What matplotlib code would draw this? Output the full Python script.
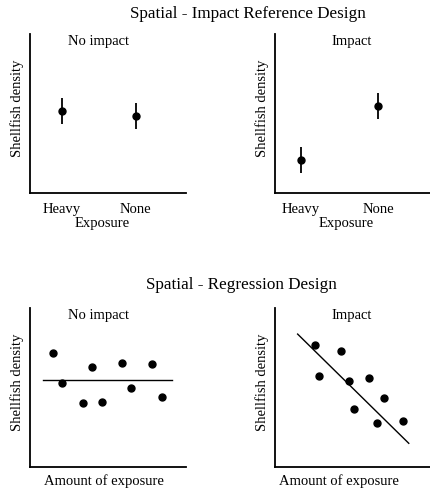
import matplotlib
matplotlib.use("Agg")
import matplotlib.pyplot as plt

plt.rcParams['font.family'] = ['Liberation Serif', 'DejaVu Serif']

# top row: impact reference design (mean +/- error)
groups = ["Heavy", "None"]
ref_no_mean = [5.13, 4.87]
ref_no_err = [0.82, 0.82]
ref_imp_mean = [2.1, 5.5]
ref_imp_err = [0.82, 0.82]

# bottom row: regression design
reg_no_x = [1.46, 2.07, 3.42, 3.99, 4.62, 5.92, 6.47, 7.80, 8.44]
reg_no_y = [7.19, 5.30, 4.01, 6.31, 4.09, 6.56, 4.99, 6.48, 4.40]
reg_no_line_x = [0.81, 9.10]
reg_no_line_y = [5.47, 5.47]

reg_imp_x = [2.58, 2.84, 4.24, 4.79, 5.12, 6.05, 6.60, 7.01, 8.24]
reg_imp_y = [7.65, 5.72, 7.31, 5.41, 3.64, 5.62, 2.79, 4.34, 2.87]
reg_imp_line_x = [1.46, 8.63]
reg_imp_line_y = [8.36, 1.49]

W, H = 430, 495
FS = 10.5
fig = plt.figure(figsize=(W / 100, H / 100), dpi=100)


def make_ax(left, top, width=156, height=159):
    ax = fig.add_axes([left / W, 1 - (top + height) / H, width / W, height / H])
    for s in ["top", "right"]:
        ax.spines[s].set_visible(False)
    for s in ["left", "bottom"]:
        ax.spines[s].set_linewidth(1.3)
    ax.set_yticks([])
    ax.set_ylim(0, 10)
    return ax


def ref_panel(ax, means, errs, title, tx, xlim):
    ax.errorbar([0, 1], means, yerr=errs, fmt='o', color='black',
                markersize=5, elinewidth=1.3, capsize=0)
    ax.set_xlim(*xlim)
    ax.set_xticks([0, 1])
    ax.set_xticklabels(groups, fontsize=FS)
    ax.tick_params(axis='x', length=0, pad=7)
    ax.text(tx, 0.95, title, transform=ax.transAxes, ha='center', va='center', fontsize=FS)
    ax.text(-0.083, 0.535, "Shellfish density", transform=ax.transAxes, rotation=90,
            ha='center', va='center', fontsize=FS)
    ax.text(0.46, -0.19, "Exposure", transform=ax.transAxes, ha='center', va='center', fontsize=FS)


def reg_panel(ax, x, y, lx, ly, title, tx, xl):
    ax.plot(x, y, 'o', color='black', markersize=5)
    ax.plot(lx, ly, color='black', linewidth=1.0)
    ax.set_xlim(0, 10)
    ax.set_xticks([])
    ax.text(tx, 0.95, title, transform=ax.transAxes, ha='center', va='center', fontsize=FS)
    ax.text(-0.083, 0.535, "Shellfish density", transform=ax.transAxes, rotation=90,
            ha='center', va='center', fontsize=FS)
    ax.text(xl, -0.09, "Amount of exposure", transform=ax.transAxes, ha='center', va='center', fontsize=FS)


ax1 = make_ax(30, 34)
ref_panel(ax1, ref_no_mean, ref_no_err, "No impact", 0.442, (-0.43, 1.68))
ax2 = make_ax(275, 34, width=155)
ref_panel(ax2, ref_imp_mean, ref_imp_err, "Impact", 0.497, (-0.34, 1.675))

ax3 = make_ax(30, 308)
reg_panel(ax3, reg_no_x, reg_no_y, reg_no_line_x, reg_no_line_y, "No impact", 0.442, 0.474)
ax4 = make_ax(275, 308, width=155)
reg_panel(ax4, reg_imp_x, reg_imp_y, reg_imp_line_x, reg_imp_line_y, "Impact", 0.497, 0.413)

fig.text(248 / W, 1 - 14 / H, "Spatial - Impact Reference Design", ha='center', va='center', fontsize=12.3)
fig.text(241 / W, 1 - 285 / H, "Spatial - Regression Design", ha='center', va='center', fontsize=12.3)

fig.savefig("out.png", dpi=100)
